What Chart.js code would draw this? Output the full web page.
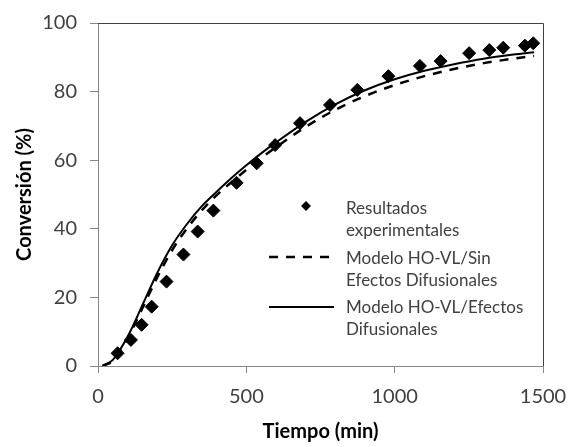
<!DOCTYPE html>
<html lang="es">
<head>
    <meta charset="UTF-8">
    <title>Conversión vs Tiempo</title>
    <script src="https://cdn.jsdelivr.net/npm/chart.js"></script>
    <style>
        body {
            margin: 0;
            background: #ffffff;
            font-family: 'Lato', sans-serif;
        }
        .wrap {
            position: relative;
            width: 571px;
            height: 447px;
        }
        .legend {
            position: absolute;
            left: 0;
            top: 0;
            color: #404040;
            font-size: 17px;
        }
        .legend .txt {
            position: absolute;
            left: 346px;
            line-height: 22px;
            white-space: nowrap;
        }
        .legend svg {
            position: absolute;
            left: 0;
            top: 0;
            overflow: visible;
        }
    </style>
</head>
<body>
<div class="wrap">
    <canvas id="chart" width="571" height="447"></canvas>
    <div class="legend" id="legend"></div>
</div>

<script>
    // experimental points (min, %)
    const expTime = [66, 111, 147, 181, 231, 288, 336, 389, 467, 535, 597, 681, 782, 874, 979, 1085, 1155, 1251, 1319, 1366, 1439, 1467];
    const expConv = [3.7, 7.6, 12, 17.3, 24.6, 32.5, 39.2, 45.3, 53.4, 59.1, 64.4, 70.8, 76.1, 80.5, 84.5, 87.5, 88.9, 91.2, 92.1, 92.8, 93.4, 94.1];

    // model curves
    const modelTime = [15, 50, 100, 150, 200, 250, 300, 350, 400, 450, 500, 550, 600, 700, 800, 900, 1000, 1100, 1200, 1300, 1400, 1470];
    const modelSinDif = [0, 1.6, 8.1, 16.9, 25.9, 33.8, 40.1, 45.4, 49.8, 53.6, 57.2, 60.6, 63.8, 69.7, 74.7, 78.7, 81.9, 84.5, 86.6, 88.3, 89.6, 90.4];
    const modelDif = [0, 1.8, 8.6, 17.8, 27.2, 35.2, 41.4, 46.6, 50.8, 54.8, 58.5, 62, 65.2, 71.2, 76.3, 80.4, 83.6, 86.1, 88, 89.6, 90.8, 91.5];

    const xTicks = [0, 500, 1000, 1500];
    const yTicks = [0, 20, 40, 60, 80, 100];

    const seriesNames = [
        ['Resultados', 'experimentales'],
        ['Modelo HO-VL/Sin', 'Efectos Difusionales'],
        ['Modelo HO-VL/Efectos', 'Difusionales']
    ];

    const pairs = (xs, ys) => xs.map((x, i) => ({ x: x, y: ys[i] }));

    Chart.defaults.font.family = 'Lato';
    Chart.defaults.color = '#404040';

    // top + right frame of the plot area (darker than the axes)
    const frame = {
        id: 'frame',
        afterDraw(chart) {
            const { ctx, chartArea: a } = chart;
            ctx.save();
            ctx.strokeStyle = '#404040';
            ctx.lineWidth = 1;
            ctx.beginPath();
            ctx.moveTo(a.left, a.top + 0.5);
            ctx.lineTo(a.right + 0.5, a.top + 0.5);
            ctx.lineTo(a.right + 0.5, a.bottom);
            ctx.stroke();
            ctx.restore();
        }
    };

    const chart = new Chart(document.getElementById('chart'), {
        type: 'scatter',
        data: {
            datasets: [
                {
                    label: seriesNames[0].join(' '),
                    data: pairs(expTime, expConv),
                    pointStyle: 'rectRot',
                    pointRadius: 6.5,
                    pointBackgroundColor: '#000',
                    pointBorderColor: '#000',
                    pointBorderWidth: 1,
                    showLine: false
                },
                {
                    label: seriesNames[1].join(' '),
                    data: pairs(modelTime, modelSinDif),
                    showLine: true,
                    borderColor: '#000',
                    borderWidth: 2.5,
                    borderDash: [9, 8],
                    pointRadius: 0,
                    cubicInterpolationMode: 'monotone'
                },
                {
                    label: seriesNames[2].join(' '),
                    data: pairs(modelTime, modelDif),
                    showLine: true,
                    borderColor: '#000',
                    borderWidth: 2,
                    pointRadius: 0,
                    cubicInterpolationMode: 'monotone'
                }
            ]
        },
        options: {
            responsive: false,
            devicePixelRatio: 1,
            animation: false,
            layout: { padding: { left: 0, right: 28, top: 23, bottom: 0 } },
            plugins: {
                legend: { display: false },
                tooltip: { enabled: false }
            },
            scales: {
                x: {
                    type: 'linear',
                    min: 0,
                    max: 1500,
                    afterBuildTicks: s => { s.ticks = xTicks.map(v => ({ value: v })); },
                    afterFit: s => { s.height = 81; s.paddingLeft = 0; s.paddingRight = 0; },
                    grid: { drawOnChartArea: false, tickLength: 7, tickColor: '#868686' },
                    border: { color: '#868686', width: 1 },
                    ticks: { padding: 12, font: { size: 20 }, color: '#404040', maxRotation: 0, callback: v => String(v) },
                    title: {
                        display: true,
                        text: 'Tiempo (min)',
                        font: { size: 20, weight: 'bold' },
                        color: '#000',
                        padding: { top: 0, bottom: 3 }
                    }
                },
                y: {
                    min: 0,
                    max: 100,
                    afterBuildTicks: s => { s.ticks = yTicks.map(v => ({ value: v })); },
                    afterFit: s => { s.width = 98; s.paddingTop = 0; s.paddingBottom = 0; },
                    grid: { drawOnChartArea: false, tickLength: 8, tickColor: '#868686' },
                    border: { color: '#868686', width: 1 },
                    ticks: { padding: 13, font: { size: 20 }, color: '#404040', callback: v => String(v) },
                    title: {
                        display: true,
                        text: 'Conversión (%)',
                        font: { size: 20, weight: 'bold' },
                        color: '#000',
                        padding: { top: 13, bottom: 0 }
                    }
                }
            }
        },
        plugins: [frame]
    });

    // legend inside the plot, built from the series names
    const legend = document.getElementById('legend');
    const rowTop = [197, 247, 296];
    const swatches = [
        '<rect x="302.5" y="202.5" width="7" height="7" fill="#000" transform="rotate(45 306 206)"/>',
        '<line x1="269" y1="257" x2="333" y2="257" stroke="#000" stroke-width="2.5" stroke-dasharray="9 8"/>',
        '<line x1="269" y1="307" x2="334" y2="307" stroke="#000" stroke-width="2"/>'
    ];
    let svg = '<svg width="571" height="447">' + swatches.join('') + '</svg>';
    legend.innerHTML = svg;
    seriesNames.forEach((lines, i) => {
        const d = document.createElement('div');
        d.className = 'txt';
        d.style.top = rowTop[i] + 'px';
        d.innerHTML = lines.join('<br>');
        legend.appendChild(d);
    });
</script>
</body>
</html>
